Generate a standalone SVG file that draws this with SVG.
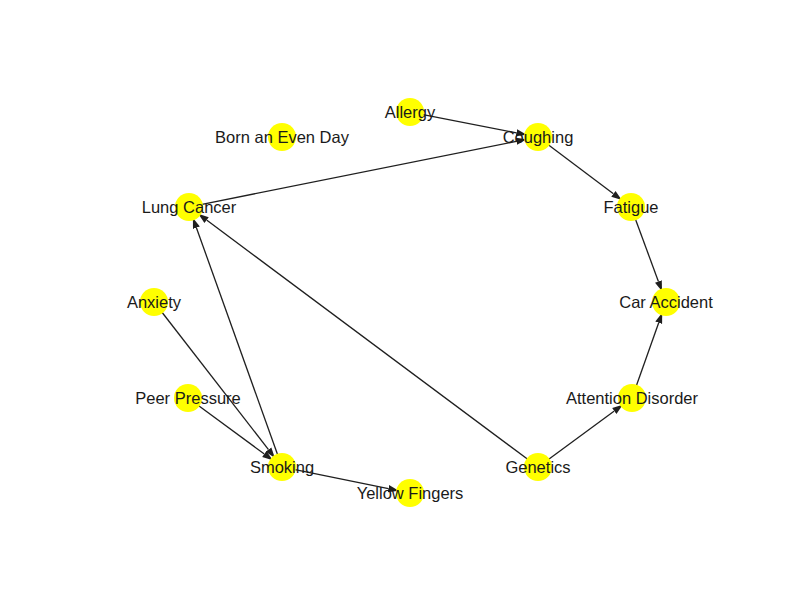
<svg xmlns="http://www.w3.org/2000/svg" width="800" height="600" viewBox="0 0 800 600">
<defs>
<marker id="arr" markerUnits="userSpaceOnUse" markerWidth="12" markerHeight="10" refX="0" refY="4" orient="auto" viewBox="0 0 12 8">
<path d="M0,0.4 L10.5,4 L0,7.6 z" fill="#1f1f1f"/>
</marker>
<style>
.e{stroke:#1f1f1f;stroke-width:1.3;fill:none;marker-end:url(#arr)}
.n{fill:#ffff00}
.t{font-family:"Liberation Sans",Arial,sans-serif;font-size:16.5px;fill:#1a1a1a;text-anchor:middle}
</style>
</defs>
<rect width="800" height="600" fill="#ffffff"/>
<g id="edges">
<line class="e" x1="421.8" y1="114.3" x2="516.4" y2="132.8"/>
<line class="e" x1="200.8" y1="204.6" x2="516.4" y2="141.3"/>
<line class="e" x1="547.6" y1="144.2" x2="613.4" y2="193.8"/>
<line class="e" x1="635.1" y1="218.3" x2="658.4" y2="281.4"/>
<line class="e" x1="636.0" y1="386.7" x2="658.7" y2="322.7"/>
<line class="e" x1="547.7" y1="459.9" x2="614.3" y2="411.0"/>
<line class="e" x1="528.4" y1="459.8" x2="206.6" y2="220.1"/>
<line class="e" x1="278.0" y1="455.7" x2="196.4" y2="227.7"/>
<line class="e" x1="161.4" y1="311.5" x2="268.5" y2="449.6"/>
<line class="e" x1="197.7" y1="405.1" x2="264.3" y2="454.0"/>
<line class="e" x1="293.8" y1="469.4" x2="388.4" y2="488.6"/>
</g>
<g id="allergy"><circle class="n" cx="410" cy="112" r="14"/><text class="t" x="410" y="118">Allergy</text></g>
<g id="born"><circle class="n" cx="282" cy="137" r="14"/><text class="t" x="282" y="143">Born an Even Day</text></g>
<g id="coughing"><circle class="n" cx="538" cy="137" r="14"/><text class="t" x="538" y="143">Coughing</text></g>
<g id="lungcancer"><circle class="n" cx="189" cy="207" r="14"/><text class="t" x="189" y="213">Lung Cancer</text></g>
<g id="fatigue"><circle class="n" cx="631" cy="207" r="14"/><text class="t" x="631" y="213">Fatigue</text></g>
<g id="anxiety"><circle class="n" cx="154" cy="302" r="14"/><text class="t" x="154" y="308">Anxiety</text></g>
<g id="caraccident"><circle class="n" cx="666" cy="302" r="14"/><text class="t" x="666" y="308">Car Accident</text></g>
<g id="peerpressure"><circle class="n" cx="188" cy="398" r="14"/><text class="t" x="188" y="404">Peer Pressure</text></g>
<g id="attention"><circle class="n" cx="632" cy="398" r="14"/><text class="t" x="632" y="404">Attention Disorder</text></g>
<g id="smoking"><circle class="n" cx="282" cy="467" r="14"/><text class="t" x="282" y="473">Smoking</text></g>
<g id="genetics"><circle class="n" cx="538" cy="467" r="14"/><text class="t" x="538" y="473">Genetics</text></g>
<g id="yellowfingers"><circle class="n" cx="410" cy="493" r="14"/><text class="t" x="410" y="499">Yellow Fingers</text></g>
</svg>
